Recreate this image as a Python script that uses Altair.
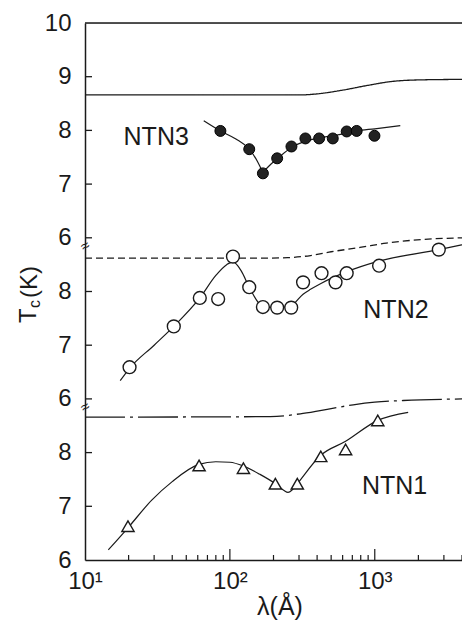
import altair as alt
import pandas as pd

W, H = 377, 537
INK = "#1a1a1a"
FONT = "Liberation Sans"

# ---------------- data ----------------
# NTN3 : filled circles + fit
ntn3_lam = [86, 136, 169, 212, 266, 332, 413, 513, 640, 750, 995]
ntn3_tc = [7.99, 7.65, 7.20, 7.48, 7.70, 7.85, 7.85, 7.85, 7.98, 7.99, 7.90]
ntn3_fit_lam = [66, 86, 110, 136, 155, 165, 169, 174, 190, 212, 266, 332, 413, 513, 640, 750, 1000, 1500]
ntn3_fit_tc = [8.18, 7.99, 7.84, 7.65, 7.42, 7.27, 7.20, 7.25, 7.36, 7.47, 7.68, 7.80, 7.86, 7.90, 7.95, 7.99, 8.03, 8.09]
ntn3_bulk_lam = [10, 300, 400, 600, 900, 1300, 2000, 4000]
ntn3_bulk_tc = [8.66, 8.66, 8.68, 8.75, 8.84, 8.91, 8.94, 8.95]

# NTN2 : open circles + fit
ntn2_lam = [20.3, 41, 62, 83, 105, 136, 169, 212, 265, 320, 429, 536, 640, 1071, 2767]
ntn2_tc = [6.59, 7.35, 7.88, 7.86, 8.65, 8.08, 7.71, 7.70, 7.70, 8.17, 8.34, 8.17, 8.34, 8.48, 8.78]
ntn2_fit_lam = [17.5, 20.3, 30, 41, 62, 80, 95, 105, 120, 136, 169, 212, 265, 320, 360, 425, 630, 1050, 2770, 4000]
ntn2_fit_tc = [6.34, 6.57, 7.00, 7.35, 7.88, 8.30, 8.50, 8.55, 8.38, 8.08, 7.72, 7.70, 7.74, 7.95, 8.04, 8.15, 8.36, 8.56, 8.78, 8.87]
ntn2_bulk_lam = [10, 160, 250, 360, 500, 790, 1200, 1740, 4000]
ntn2_bulk_tc = [8.62, 8.62, 8.63, 8.67, 8.74, 8.82, 8.90, 8.95, 9.00]

# NTN1 : open triangles + fit
ntn1_lam = [19.8, 61.3, 124, 206, 292, 424, 629, 1049]
ntn1_tc = [6.63, 7.76, 7.71, 7.42, 7.42, 7.93, 8.06, 8.60]
ntn1_fit_lam = [14.5, 19.8, 29, 40, 61, 80, 100, 124, 160, 206, 235, 252, 270, 292, 424, 629, 1049, 1700]
ntn1_fit_tc = [6.19, 6.60, 7.12, 7.46, 7.78, 7.83, 7.82, 7.75, 7.60, 7.42, 7.30, 7.26, 7.31, 7.42, 7.95, 8.21, 8.60, 8.75]
ntn1_bulk_lam = [10, 190, 320, 500, 710, 1000, 1570, 4000]
ntn1_bulk_tc = [8.66, 8.67, 8.73, 8.82, 8.89, 8.94, 8.97, 9.00]

series_names = ["NTN3", "NTN2", "NTN1"]
series_label_lam = [31, 1400, 1370]
series_label_tc = [7.88, 7.66, 7.37]

# broken-axis stacking: each panel's Tc is shifted onto one common scale
panel_offset = {"NTN3": 0.0, "NTN2": -3.0, "NTN1": -6.0}

y_tick_pos = list(range(11))
y_tick_labels = ["6", "7", "8", "6", "7", "8", "6", "7", "8", "9", "10"]
x_label_vals = [10, 100, 1000]
x_label_text = ["10¹", "10²", "10³"]
x_major_ticks = [100, 1000]
x_minor_ticks = [20, 30, 40, 50, 60, 70, 80, 90, 200, 300, 400, 500, 600, 700, 800, 900, 2000, 3000, 4000]
break_pos = [5.85, 2.85]


def frame(lam, tc, name):
    return pd.DataFrame({"lam": lam, "tc": tc,
                         "v": [t + panel_offset[name] for t in tc]})


# ---------------- scales / axes ----------------
x_scale = alt.Scale(type="log", domain=[10, 4000], nice=False)
y_scale = alt.Scale(domain=[0, 10], nice=False, zero=False)

x_expr = " : ".join(
    f"datum.value == {v} ? '{t}'" for v, t in zip(x_label_vals[:-1], x_label_text[:-1])
) + f" : '{x_label_text[-1]}'"
y_expr = "[" + ",".join(f"'{t}'" for t in y_tick_labels) + "][datum.value]"

x_axis = alt.Axis(values=x_label_vals, labelExpr=x_expr, ticks=False, grid=False,
                  domainColor=INK, domainWidth=1.5, labelFont=FONT, labelFontSize=24,
                  labelColor=INK, labelPadding=9, title=None, labelFlush=False,
                  labelOverlap=False)
y_axis = alt.Axis(values=y_tick_pos, labelExpr=y_expr, ticks=False, grid=False,
                  domainColor=INK, domainWidth=1.5, labelFont=FONT, labelFontSize=24,
                  labelColor=INK, labelPadding=14, title=None, labelFlush=False,
                  labelOverlap=False)

X = alt.X("lam:Q", scale=x_scale, axis=x_axis)
Y = alt.Y("v:Q", scale=y_scale, axis=y_axis)

layers = []

# bulk lines
for lam, tc, name, dash in [
    (ntn3_bulk_lam, ntn3_bulk_tc, "NTN3", [1, 0]),
    (ntn2_bulk_lam, ntn2_bulk_tc, "NTN2", [7, 4]),
    (ntn1_bulk_lam, ntn1_bulk_tc, "NTN1", [40, 5, 3, 5]),
]:
    layers.append(
        alt.Chart(frame(lam, tc, name)).mark_line(
            color=INK, strokeWidth=1.3, strokeDash=dash, interpolate="monotone", clip=True
        ).encode(x=X, y=Y)
    )

# fits
for lam, tc, name in [
    (ntn3_fit_lam, ntn3_fit_tc, "NTN3"),
    (ntn2_fit_lam, ntn2_fit_tc, "NTN2"),
    (ntn1_fit_lam, ntn1_fit_tc, "NTN1"),
]:
    layers.append(
        alt.Chart(frame(lam, tc, name)).mark_line(
            color=INK, strokeWidth=1.2, interpolate="monotone", clip=True
        ).encode(x=X, y=Y)
    )

# markers
layers.append(
    alt.Chart(frame(ntn3_lam, ntn3_tc, "NTN3")).mark_point(
        shape="circle", filled=True, fill="#222222", stroke="#000000",
        strokeWidth=1.0, size=120, opacity=1
    ).encode(x=X, y=Y)
)
layers.append(
    alt.Chart(frame(ntn2_lam, ntn2_tc, "NTN2")).mark_point(
        shape="circle", filled=True, fill="white", stroke=INK,
        strokeWidth=1.4, size=165, opacity=1
    ).encode(x=X, y=Y)
)
layers.append(
    alt.Chart(frame(ntn1_lam, ntn1_tc, "NTN1")).mark_point(
        shape="triangle-up", filled=True, fill="white", stroke=INK,
        strokeWidth=1.4, size=150, opacity=1
    ).encode(x=X, y=Y)
)

# inward ticks
layers.append(
    alt.Chart(pd.DataFrame({"v": y_tick_pos[1:-1]})).mark_rule(color=INK, strokeWidth=1.3)
    .encode(y=Y, x=alt.value(0), x2=alt.value(7))
)
layers.append(
    alt.Chart(pd.DataFrame({"lam": x_minor_ticks})).mark_rule(color=INK, strokeWidth=1.2)
    .encode(x=X, y=alt.value(H), y2=alt.value(H - 5))
)
layers.append(
    alt.Chart(pd.DataFrame({"lam": x_major_ticks})).mark_rule(color=INK, strokeWidth=1.2)
    .encode(x=X, y=alt.value(H), y2=alt.value(H - 11))
)
# top frame line
layers.append(
    alt.Chart(pd.DataFrame({"lam": [10]})).mark_rule(color=INK, strokeWidth=1.5)
    .encode(x=alt.value(0), x2=alt.value(W), y=alt.value(0))
)
# axis-break marks
layers.append(
    alt.Chart(pd.DataFrame({"v": break_pos})).mark_text(
        text="≈", font=FONT, fontSize=15, color=INK, angle=330
    ).encode(y=Y, x=alt.value(0))
)

# panel labels
lab = pd.DataFrame({
    "lam": series_label_lam,
    "v": [t + panel_offset[n] for t, n in zip(series_label_tc, series_names)],
    "label": series_names,
})
layers.append(
    alt.Chart(lab).mark_text(font=FONT, fontSize=25, color=INK, align="center", baseline="middle")
    .encode(x=X, y=Y, text="label:N")
)

# y-axis title  T_c(K)  (rotated, with subscript)
for t, xv, yv, fs in [("T", -49, 300, 24), ("c", -45, 285, 16), ("(K)", -48, 275, 24)]:
    layers.append(
        alt.Chart(pd.DataFrame({"lam": [10]})).mark_text(
            text=t, font=FONT, fontSize=fs, color=INK, angle=270,
            align="left", baseline="alphabetic"
        ).encode(x=alt.value(xv), y=alt.value(yv))
    )

# x-axis title
layers.append(
    alt.Chart(pd.DataFrame({"lam": [10]})).mark_text(
        text="λ(Å)", font=FONT, fontSize=25, color=INK, align="center", baseline="alphabetic"
    ).encode(x=alt.value(195), y=alt.value(592))
)

chart = alt.layer(*layers).properties(
    width=W, height=H,
    padding={"left": 77, "top": 15, "right": 0, "bottom": 61},
    autosize=alt.AutoSizeParams(type="none"),
).configure_view(stroke=None).configure(background="white")

chart.save("out.html", embed_options={"renderer": "svg", "actions": False})
